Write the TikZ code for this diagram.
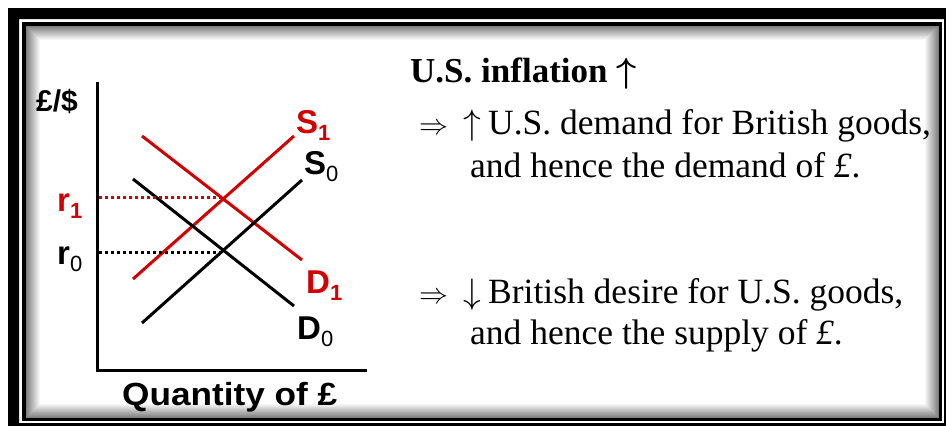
\RequirePackage{fix-cm}
\documentclass[tikz,border=0pt]{standalone}
\usepackage{bm}
\usepackage{fontspec}
\setmainfont{Liberation Serif}
\newfontfamily\chartfont{Liberation Sans}
\newfontfamily\chartwide[FakeStretch=1.1]{Liberation Sans}
\definecolor{curvered}{RGB}{210,0,0}
\newcommand\lsub[1]{\raisebox{-7pt}{\fontsize{22}{22}\selectfont #1}}
\begin{document}
\begin{tikzpicture}[x=1pt,y=-1pt,
  curve/.style={line width=3pt},
  axisline/.style={line width=3pt},
  guide/.style={line width=3pt, dash pattern=on 3pt off 3pt},
  clabel/.style={inner sep=0pt, anchor=base west, font=\chartfont\fontsize{33}{33}\selectfont\bfseries},
  txt/.style={inner sep=0pt, anchor=base west, font=\fontsize{35.5}{35.5}\selectfont},
  impl/.style={inner sep=0pt, anchor=base west, font=\fontsize{29}{29}\selectfont},
]
\useasboundingbox (0,0) rectangle (946,426);
\clip (0,0) rectangle (946,426);
\fill[white] (0,0) rectangle (946,426);
% outer frame band
\fill[black, even odd rule] (8,8) rectangle (960,440) (19,19) rectangle (944,423);
% thin inner line
\draw[line width=3.5pt] (24,24) rectangle (940.5,419.5);
% inset shadow
\foreach \i in {0,...,13}{
  \pgfmathsetmacro\sh{50*(1-\i/14)}
  \draw[line width=1.1pt, black!\sh] (26.5+\i,26.5+\i) rectangle (938.5-\i,417.5-\i);
}
% axes
\coordinate (ytop) at (97,82);
\coordinate (orig) at (97,370);
\coordinate (xend) at (367,370);
\draw[axisline] (ytop) -- (orig) -- (xend);
% curves
\coordinate (d1a) at (142,136); \coordinate (d1b) at (302,260);
\coordinate (s1a) at (133,279); \coordinate (s1b) at (294,136);
\coordinate (d0a) at (133,179); \coordinate (d0b) at (294,306);
\coordinate (s0a) at (142,323); \coordinate (s0b) at (302,180);
\draw[curve, curvered] (d1a) -- (d1b);
\draw[curve, curvered] (s1a) -- (s1b);
\draw[curve] (d0a) -- (d0b);
\draw[curve] (s0a) -- (s0b);
% equilibrium guides
\coordinate (e1) at (222,197); \coordinate (e1y) at (99,197);
\coordinate (e0) at (222,252); \coordinate (e0y) at (99,252);
\draw[guide, curvered] (e1y) -- (e1);
\draw[guide] (e0y) -- (e0);
% chart labels
\node[clabel, font=\chartfont\fontsize{30}{30}\selectfont\bfseries] (plabel) at (36,111) {£/\$};
\node[clabel, text=curvered] (r1) at (57,211) {r\lsub{1}};
\node[clabel] (r0) at (57,264) {r\lsub{\mdseries 0}};
\node[clabel, text=curvered] (s1l) at (296,133) {S\lsub{1}};
\node[clabel] (s0l) at (304,174) {S\lsub{\mdseries 0}};
\node[clabel, text=curvered] (d1l) at (306,293) {D\lsub{1}};
\node[clabel] (d0l) at (297,339) {D\lsub{\mdseries 0}};
\node[clabel, font=\chartwide\fontsize{32}{32}\selectfont\bfseries] (qlabel) at (122,405) {Quantity of £};
% right text
\node[txt, font=\fontsize{35}{35}\selectfont\bfseries] (head) at (410,82) {U.S. inflation $\bm{\uparrow}$};
\node[impl] (imp1) at (419,134) {$\Rightarrow$};
\node[txt] (up1) at (463,134) {$\uparrow$};
\node[txt] (l2) at (488,134) {U.S. demand for British goods,};
\node[txt] (l3) at (470,177) {and hence the demand of \textit{£}.};
\node[impl] (imp2) at (419,303) {$\Rightarrow$};
\node[txt] (dn1) at (463,303) {$\downarrow$};
\node[txt] (l4) at (488,303) {British desire for U.S. goods,};
\node[txt] (l5) at (470,344) {and hence the supply of \textit{£}.};
\end{tikzpicture}
\end{document}
